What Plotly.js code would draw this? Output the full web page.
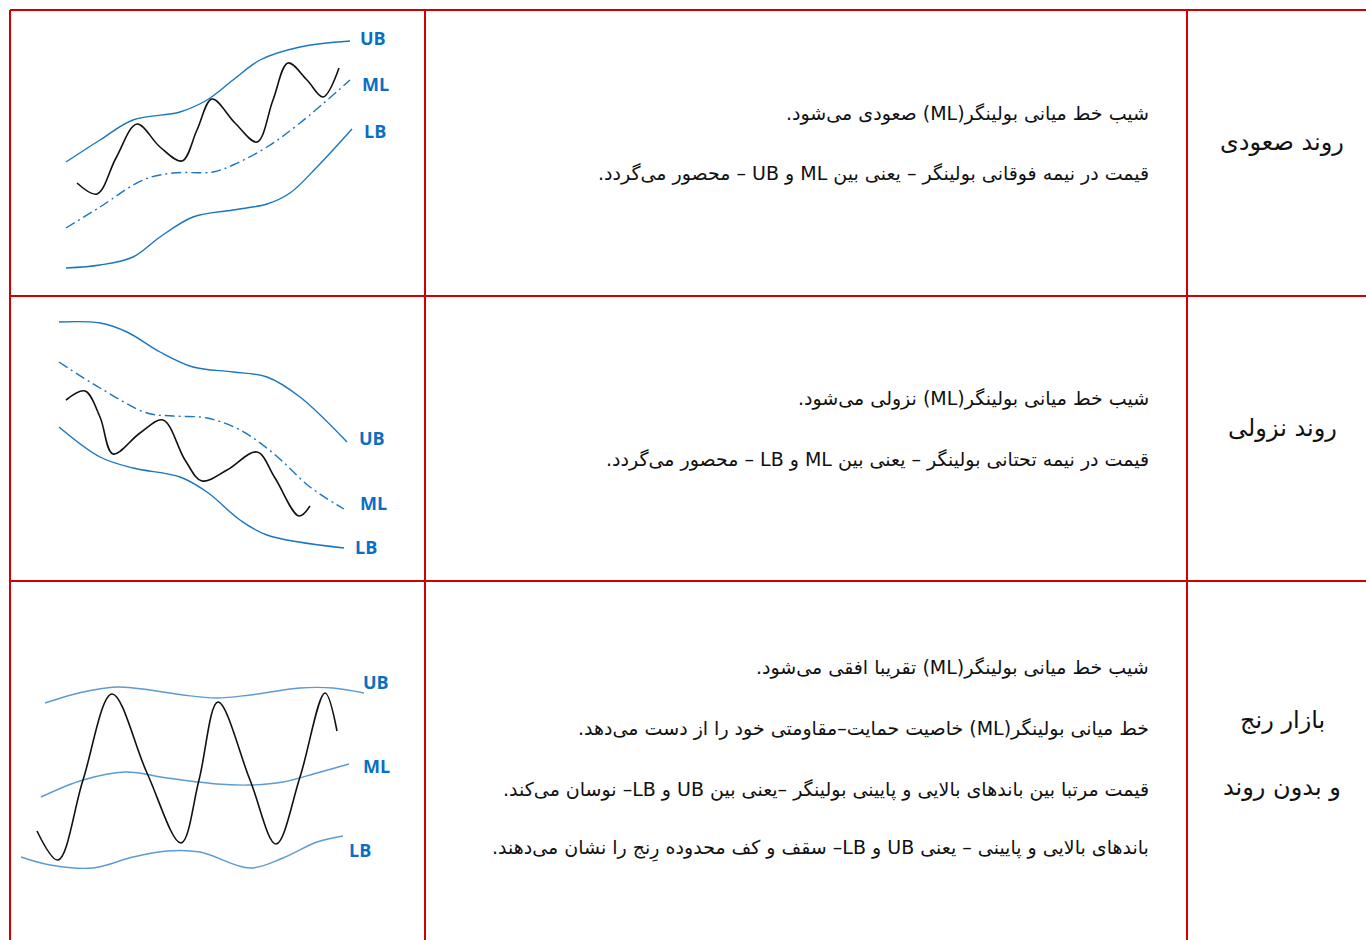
<!DOCTYPE html>
<html>
<head>
<meta charset="utf-8">
<script src="https://cdn.plot.ly/plotly-3.0.1.min.js"></script>
<style>html,body{margin:0;padding:0;background:#fff;}#chart{width:1366px;height:940px;}</style>
</head>
<body>
<div id="chart"></div>
<script>
// ---- Uptrend sketch (page-pixel units) ----
const upUbX = [66,100,133,180,207,233,260,300,350];
const upUbY = [162,140,120,112,100,80,60,47,41];
const upMlX = [66,100,143,173,213,233,267,300,350];
const upMlY = [228,207,180,173,172,165,147,123,80];
const upLbX = [66,100,133,160,193,233,267,290,317,352];
const upLbY = [268,265,257,237,217,210,204,193,167,129];
const upPxX = [77,97,116,137,160,182,197,212,235,257,273,288,307,323,339];
const upPxY = [183,194,158,124,147,161,130,99,123,142,100,63,80,97,68];

// ---- Downtrend sketch ----
const dnUbX = [59,100,127,160,193,233,267,300,347];
const dnUbY = [322,323,332,352,367,372,377,397,442];
const dnMlX = [59,100,147,173,207,240,273,310,344];
const dnMlY = [362,388,413,416,418,430,453,487,509];
const dnLbX = [59,100,133,180,207,240,267,344];
const dnLbY = [427,457,468,477,492,520,535,548];
const dnPxX = [66,85,100,113,140,163,185,202,227,257,275,299,310];
const dnPxY = [400,391,417,454,433,420,460,481,470,452,478,516,506];

// ---- Range sketch ----
const rgUbX = [45,83,117,150,183,217,250,300,333,364];
const rgUbY = [703,692,687,690,695,698,695,688,688,693];
const rgMlX = [41,83,125,167,217,250,283,317,349];
const rgMlY = [797,780,772,778,784,785,782,773,764];
const rgLbX = [21,50,93,133,167,200,250,283,317,343];
const rgLbY = [857,865,868,857,851,852,868,858,842,836];
const rgPxX = [37,58,83,112,147,181,199,218,250,276,300,325,337];
const rgPxY = [831,860,780,694,773,843,780,702,780,844,777,693,731];

// ---- Texts ----
const bandLabels = ["UB","ML","LB"];
const rowTitles = ["روند صعودی","روند نزولی","بازار رنج","و بدون روند"];
const upTexts = [
  "شیب خط میانی بولینگر(ML) صعودی می‌شود.",
  "قیمت در نیمه فوقانی بولینگر – یعنی بین ML و UB – محصور می‌گردد."
];
const dnTexts = [
  "شیب خط میانی بولینگر(ML) نزولی می‌شود.",
  "قیمت در نیمه تحتانی بولینگر – یعنی بین ML و LB – محصور می‌گردد."
];
const rgTexts = [
  "شیب خط میانی بولینگر(ML) تقریبا افقی می‌شود.",
  "خط میانی بولینگر(ML) خاصیت حمایت–مقاومتی خود را از دست می‌دهد.",
  "قیمت مرتبا بین باندهای بالایی و پایینی بولینگر –یعنی بین UB و LB– نوسان می‌کند.",
  "باندهای بالایی و پایینی – یعنی UB و LB– سقف و کف محدوده رِنج را نشان می‌دهند."
];

const BLUE = '#1a75c2';
const LIGHT = '#5b9bd5';
function band(x, y, color, dash) {
  return {x: x, y: y, type: 'scatter', mode: 'lines', hoverinfo: 'skip',
    line: {color: color, width: 1.4, shape: 'spline', dash: dash || 'solid'}};
}
function price(x, y) {
  return {x: x, y: y, type: 'scatter', mode: 'lines', hoverinfo: 'skip',
    line: {color: '#111', width: 1.6, shape: 'spline'}};
}
const DD = '10px,4px,2px,4px';
const traces = [
  band(upUbX, upUbY, BLUE), band(upMlX, upMlY, BLUE, DD), band(upLbX, upLbY, BLUE), price(upPxX, upPxY),
  band(dnUbX, dnUbY, BLUE), band(dnMlX, dnMlY, BLUE, DD), band(dnLbX, dnLbY, BLUE), price(dnPxX, dnPxY),
  band(rgUbX, rgUbY, LIGHT), band(rgMlX, rgMlY, LIGHT), band(rgLbX, rgLbY, LIGHT), price(rgPxX, rgPxY)
];

const RED = '#d00000';
function hline(y) { return {type: 'line', xref: 'x', yref: 'y', x0: 10, x1: 1366, y0: y, y1: y, line: {color: RED, width: 2}}; }
function vline(x) { return {type: 'line', xref: 'x', yref: 'y', x0: x, x1: x, y0: 10, y1: 940, line: {color: RED, width: 2}}; }
const shapes = [hline(10), hline(296), hline(581), vline(10), vline(425), vline(1187)];

const RLE = '\u202B', PDF = '\u202C';
const annotations = [];
const labelFont = {family: 'Open Sans, DejaVu Sans, sans-serif', size: 18, color: '#0a6fc2', weight: 700};
function lab(text, x, y) {
  annotations.push({x: x, y: y, xref: 'x', yref: 'y', text: '<b>' + text + '</b>', showarrow: false,
    xanchor: 'center', yanchor: 'middle', font: labelFont});
}
// label positions (layout only)
const labelPos = [
  [[373,38],[375,84],[375,131]],
  [[372,438],[373,503],[366,547]],
  [[376,682],[376,766],[360,850]]
];
labelPos.forEach(function (row) { row.forEach(function (p, i) { lab(bandLabels[i], p[0], p[1]); }); });

const bodyFont = {family: 'DejaVu Sans, Noto Sans, sans-serif', size: 19, color: '#111'};
function para(texts, ys) {
  texts.forEach(function (t, i) {
    annotations.push({x: 1151, y: ys[i], xref: 'x', yref: 'y', text: RLE + t + PDF, showarrow: false,
      xanchor: 'right', yanchor: 'middle', font: bodyFont});
  });
}
para(upTexts, [113, 173]);
para(dnTexts, [398, 459]);
para(rgTexts, [667, 728, 789, 849]);

const titleFont = {family: 'DejaVu Sans, Noto Sans, sans-serif', size: 24, color: '#111'};
const titleY = [142, 428, 720, 787];
rowTitles.forEach(function (t, i) {
  annotations.push({x: 1282, y: titleY[i], xref: 'x', yref: 'y', text: RLE + t + PDF, showarrow: false,
    xanchor: 'center', yanchor: 'middle', font: titleFont});
});

const layout = {
  width: 1366, height: 940,
  margin: {l: 0, r: 0, t: 0, b: 0},
  paper_bgcolor: '#ffffff', plot_bgcolor: '#ffffff',
  showlegend: false,
  xaxis: {range: [0, 1366], visible: false, fixedrange: true},
  yaxis: {range: [940, 0], visible: false, fixedrange: true},
  shapes: shapes,
  annotations: annotations
};
Plotly.newPlot('chart', traces, layout, {displayModeBar: false, staticPlot: true});
</script>
</body>
</html>
